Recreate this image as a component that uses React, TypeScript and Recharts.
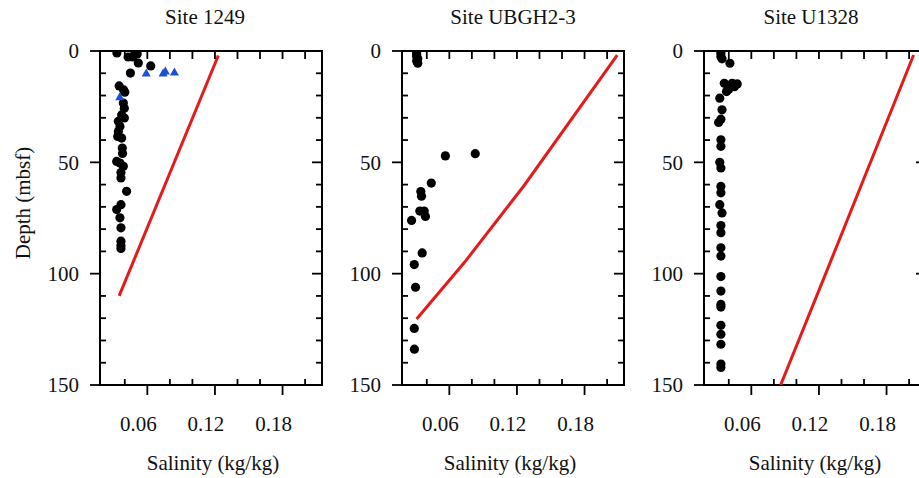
import { ScatterChart, Scatter, XAxis, YAxis, ReferenceArea } from "recharts";

// salinity (kg/kg), depth (mbsf)
const site1249Dots: [number, number][] = [
  [0.033, 0.9], [0.043, 2.7], [0.047, 2.7], [0.049, 0.9], [0.051, 1.3], [0.052, 5.4],
  [0.063, 6.7], [0.045, 9.9], [0.035, 15.7], [0.039, 17.5], [0.04, 18.5],
  [0.0387, 23.4], [0.0396, 25.7], [0.0372, 28.7], [0.0396, 30.1], [0.0343, 31.6],
  [0.0357, 33.9], [0.0343, 36.1], [0.0337, 38.4], [0.0372, 39.1], [0.0378, 43.6],
  [0.038, 46], [0.0328, 49.6], [0.0357, 50.3], [0.0387, 51.8], [0.0366, 54.6],
  [0.0366, 57], [0.0416, 63], [0.0366, 69], [0.0328, 71.2], [0.0357, 74.9],
  [0.0366, 79.4], [0.0366, 85.4], [0.0366, 87.3], [0.0366, 88.7],
];
const site1249Tri: [number, number][] = [
  [0.059, 9.9], [0.074, 9.9], [0.076, 9.0], [0.084, 9.4], [0.0355, 20.6],
];
const site1249Line: [number, number][] = [[0.123, 2], [0.035, 110]];

const ubgh23Dots: [number, number][] = [
  [0.031, 0.5], [0.031, 1.5], [0.031, 2.5], [0.032, 3.5], [0.031, 4.5], [0.032, 5.5],
  [0.0565, 47.1], [0.083, 46.1], [0.044, 59.3], [0.0347, 63.1], [0.0353, 65.2],
  [0.0338, 71.9], [0.0377, 71.9], [0.0388, 74.3], [0.0265, 76.1], [0.0359, 90.7],
  [0.0289, 95.9], [0.03, 106.1], [0.0289, 124.6], [0.029, 133.9],
];
const ubgh23Line: [number, number][] = [[0.209, 1.8], [0.1264, 60.4], [0.0735, 94.9], [0.031, 120.4]];

const u1328Dots: [number, number][] = [
  [0.033, 1], [0.033, 2.5], [0.034, 3.5], [0.041, 5.5], [0.036, 14.5], [0.043, 14.5],
  [0.0475, 14.8], [0.045, 16], [0.04, 17.2], [0.038, 18.2], [0.032, 21.2], [0.034, 26.4],
  [0.033, 30.6], [0.031, 32.1], [0.033, 39.9], [0.033, 42.8], [0.032, 50], [0.033, 52.5],
  [0.033, 60.8], [0.033, 63.7], [0.032, 69], [0.034, 72.7], [0.033, 78.4], [0.033, 81.6],
  [0.033, 88.4], [0.033, 92.1], [0.033, 101.3], [0.033, 107.8], [0.033, 113.8],
  [0.033, 115], [0.033, 123.2], [0.033, 127.2], [0.033, 131.7], [0.033, 140.6], [0.033, 142.1],
];
const u1328Line: [number, number][] = [[0.204, 1.8], [0.126, 100], [0.086, 150]];

const xTicks = [0.04, 0.06, 0.08, 0.1, 0.12, 0.14, 0.16, 0.18, 0.2];
const yTicks = [0, 10, 20, 30, 40, 50, 60, 70, 80, 90, 100, 110, 120, 130, 140, 150];
const xDomain: [number, number] = [0.018, 0.215];

const PLOT_W = 222;
const PLOT_H = 334;
const FONT = "'Times New Roman', Times, 'Liberation Serif', 'DejaVu Serif', 'Noto Serif', serif";
const INK = "#111";

const pts = (a: [number, number][]) => a.map(([x, y]) => ({ x, y }));

const Dot = (p: any) => <circle cx={p.cx} cy={p.cy} r={4.6} fill="#000" />;
const Tri = (p: any) => (
  <polygon
    points={`${p.cx - 4.5},${p.cy + 3.5} ${p.cx + 4.5},${p.cy + 3.5} ${p.cx},${p.cy - 4.5}`}
    fill="#1a4fd6"
  />
);
const Nothing = () => <g />;

function YTick(p: any) {
  const { x, y, payload } = p;
  const v = payload.value;
  const major = v % 50 === 0;
  return (
    <g>
      <line x1={major ? x - 10 : x} x2={major ? x : x + 6} y1={y} y2={y} stroke="#000" strokeWidth={1.8} />
      <line x1={x + PLOT_W - (major ? 10 : 6)} x2={x + PLOT_W} y1={y} y2={y} stroke="#000" strokeWidth={1.8} />
      {major && (
        <text x={x - 21} y={y} dy="0.35em" textAnchor="end" style={{ fontFamily: FONT }} fontSize={21} fill={INK}>
          {v}
        </text>
      )}
    </g>
  );
}

function XTick(p: any) {
  const { x, y, payload } = p;
  const v = payload.value;
  const major = Math.round(v * 100) % 6 === 0;
  return (
    <g>
      <line x1={x} x2={x} y1={y} y2={major ? y + 10 : y - 6} stroke="#000" strokeWidth={1.8} />
      <line x1={x} x2={x} y1={y - PLOT_H} y2={y - PLOT_H + 8} stroke="#000" strokeWidth={1.8} />
      {major && (
        <text x={x - 9} y={y + 46} textAnchor="middle" style={{ fontFamily: FONT }} fontSize={21} fill={INK}>
          {v.toFixed(2)}
        </text>
      )}
    </g>
  );
}

function Panel({ plotLeft, dots, tri, line }: any) {
  return (
    <div style={{ position: "absolute", left: plotLeft - 100, top: 0 }}>
      <ScatterChart width={332} height={478} margin={{ top: 51, right: 10, bottom: 63, left: 40 }}>
        <XAxis
          type="number"
          dataKey="x"
          domain={xDomain}
          allowDataOverflow
          ticks={xTicks}
          interval={0}
          axisLine={false}
          tickLine={false}
          tickSize={0}
          tickMargin={0}
          tick={(t: any) => <XTick {...t} />}
        />
        <YAxis
          type="number"
          dataKey="y"
          domain={[0, 150]}
          reversed
          allowDataOverflow
          ticks={yTicks}
          interval={0}
          axisLine={false}
          tickLine={false}
          tickSize={0}
          tickMargin={0}
          tick={(t: any) => <YTick {...t} />}
        />
        <ReferenceArea x1={xDomain[0]} x2={xDomain[1]} y1={0} y2={150} fill="none" stroke="#000" strokeWidth={2} />
        <Scatter
          data={pts(line)}
          line={{ stroke: "#e41b1b", strokeWidth: 3 }}
          lineType="joint"
          shape={Nothing}
          isAnimationActive={false}
        />
        <Scatter data={pts(dots)} shape={Dot} isAnimationActive={false} />
        {tri && <Scatter data={pts(tri)} shape={Tri} isAnimationActive={false} />}
      </ScatterChart>
    </div>
  );
}

const textBase: any = {
  position: "absolute",
  transform: "translate(-50%, -50%)",
  fontFamily: FONT,
  fontSize: 21,
  lineHeight: "21px",
  color: INK,
  whiteSpace: "nowrap",
};

export default function App() {
  return (
    <div
      style={{
        position: "absolute",
        left: 0,
        top: 0,
        width: 919,
        height: 478,
        overflow: "hidden",
        background: "#fff",
      }}
    >
      <Panel plotLeft={100} dots={site1249Dots} tri={site1249Tri} line={site1249Line} />
      <Panel plotLeft={402} dots={ubgh23Dots} line={ubgh23Line} />
      <Panel plotLeft={704} dots={u1328Dots} line={u1328Line} />

      <div style={{ ...textBase, left: 205, top: 17 }}>Site 1249</div>
      <div style={{ ...textBase, left: 513, top: 17 }}>Site UBGH2-3</div>
      <div style={{ ...textBase, left: 811, top: 17 }}>Site U1328</div>

      <div style={{ ...textBase, left: 213, top: 463 }}>Salinity (kg/kg)</div>
      <div style={{ ...textBase, left: 510, top: 463 }}>Salinity (kg/kg)</div>
      <div style={{ ...textBase, left: 815, top: 463 }}>Salinity (kg/kg)</div>

      <div style={{ ...textBase, left: 23, top: 203, transform: "translate(-50%, -50%) rotate(-90deg)" }}>
        Depth (mbsf)
      </div>
    </div>
  );
}
